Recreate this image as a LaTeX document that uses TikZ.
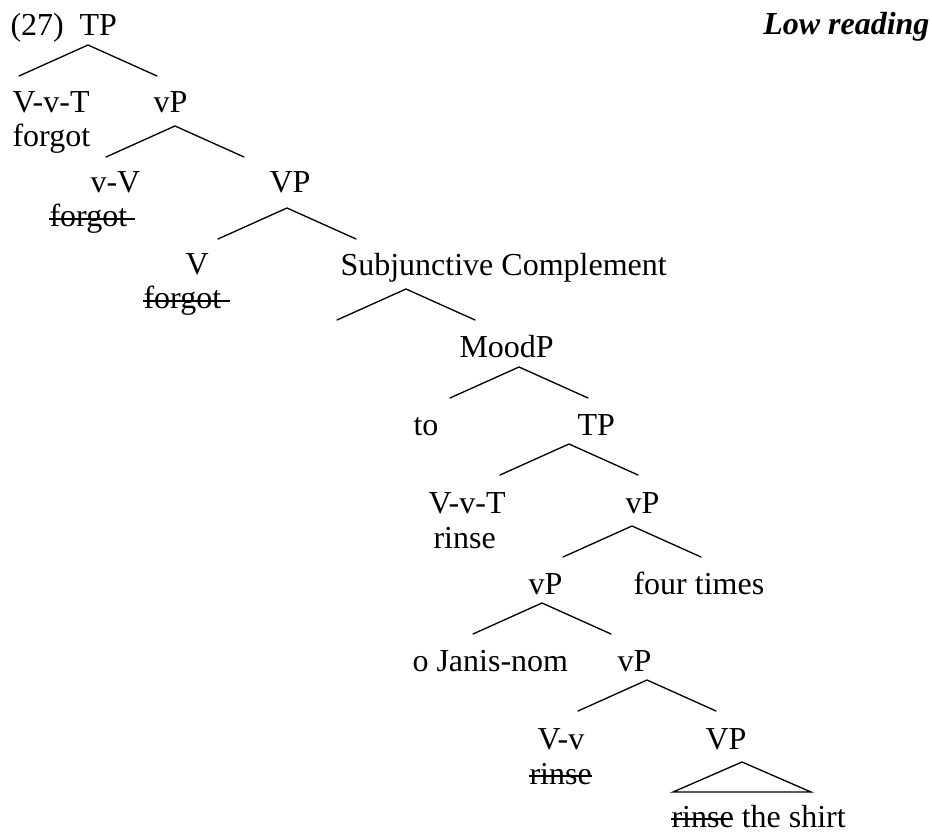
\documentclass[tikz,border=0pt]{standalone}
\usepackage{fontspec}
\setmainfont{Liberation Serif}
\usetikzlibrary{calc}

\tikzset{
	lbl/.style={anchor=base west, inner sep=0pt, font=\fontsize{12}{14}\selectfont},
	branch/.style={line width=0.5pt, line cap=round},
	strike/.style={line width=0.6pt}
}

\begin{document}
\begin{tikzpicture}[x=0.375pt, y=-0.375pt]

			% constants
			\pgfmathsetmacro{\halfw}{69};
			\pgfmathsetmacro{\drop}{31};
			\pgfmathsetmacro{\strikeup}{-8};

			\useasboundingbox (0,0) rectangle (932,832);

			% heading
			\node[lbl] (ex) at (10,36) {(27)};
			\node[lbl, anchor=base east] (reading) at (930,35) {\textbf{\textit{Low reading}}};

			% matrix clause
			\node[lbl] (tp1) at (79,36) {TP};
			\node[lbl] (vvt1) at (12,113) {V-v-T};
			\node[lbl] (forgot1) at (12,147) {forgot};
			\node[lbl] (vp1) at (153,113) {vP};
			\node[lbl] (vv1) at (90,193) {v-V};
			\node[lbl] (forgot2) at (49,227) {forgot};
			\node[lbl] (vp2) at (269,193) {VP};
			\node[lbl] (v1) at (185,275) {V};
			\node[lbl] (forgot3) at (143,309) {forgot};
			\node[lbl] (subj) at (340,276) {Subjunctive Complement};

			% embedded clause
			\node[lbl] (moodp) at (459,358) {MoodP};
			\node[lbl] (to) at (413,435) {to};
			\node[lbl] (tp2) at (577,435) {TP};
			\node[lbl] (vvt2) at (428,513) {V-v-T};
			\node[lbl] (rinse1) at (433,548) {rinse};
			\node[lbl] (vp3) at (625,513) {vP};
			\node[lbl] (vp4) at (528,594) {vP};
			\node[lbl] (four) at (633,594) {four times};
			\node[lbl] (janis) at (412,671) {o Janis-nom};
			\node[lbl] (vp5) at (617,671) {vP};
			\node[lbl] (vv2) at (537,749) {V-v};
			\node[lbl] (rinse2) at (529,784) {rinse};
			\node[lbl] (vp6) at (705,749) {VP};
			\node[lbl] (shirt) at (671,827) {rinse the shirt};

			% branch points
			\coordinate (b1) at (88,45);
			\coordinate (b2) at (175,126);
			\coordinate (b3) at (287,208);
			\coordinate (b4) at (406,289);
			\coordinate (b5) at (519,367);
			\coordinate (b6) at (569,444);
			\coordinate (b7) at (632,526);
			\coordinate (b8) at (542,603);
			\coordinate (b9) at (647,680);
			\coordinate (b10) at (742,762);

			% branches
			\draw[branch] ($(b1)+(-\halfw,\drop)$) -- (b1) -- ($(b1)+(\halfw,\drop)$);
			\draw[branch] ($(b2)+(-\halfw,\drop)$) -- (b2) -- ($(b2)+(\halfw,\drop)$);
			\draw[branch] ($(b3)+(-\halfw,\drop)$) -- (b3) -- ($(b3)+(\halfw,\drop)$);
			\draw[branch] ($(b4)+(-\halfw,\drop)$) -- (b4) -- ($(b4)+(\halfw,\drop)$);
			\draw[branch] ($(b5)+(-\halfw,\drop)$) -- (b5) -- ($(b5)+(\halfw,\drop)$);
			\draw[branch] ($(b6)+(-\halfw,\drop)$) -- (b6) -- ($(b6)+(\halfw,\drop)$);
			\draw[branch] ($(b7)+(-\halfw,\drop)$) -- (b7) -- ($(b7)+(\halfw,\drop)$);
			\draw[branch] ($(b8)+(-\halfw,\drop)$) -- (b8) -- ($(b8)+(\halfw,\drop)$);
			\draw[branch] ($(b9)+(-\halfw,\drop)$) -- (b9) -- ($(b9)+(\halfw,\drop)$);

			% triangle over VP
			\draw[branch] ($(b10)+(-\halfw,30)$) -- (b10)
				-- ($(b10)+(\halfw,30)$) -- cycle;

			% struck-out copies
			\draw[strike] (forgot2.base west) ++(0,\strikeup) -- ++(86,0);
			\draw[strike] (forgot3.base west) ++(0,\strikeup) -- ++(87,0);
			\draw[strike] (rinse2.base west) ++(0,\strikeup) -- ++(63,0);
			\draw[strike] (shirt.base west) ++(0,\strikeup) -- ++(62,0);

		\end{tikzpicture}
\end{document}
